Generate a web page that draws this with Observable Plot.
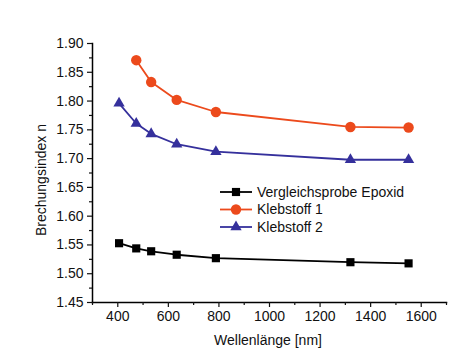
<!DOCTYPE html>
<html><head><meta charset="utf-8">
<script src="https://cdn.jsdelivr.net/npm/d3@7"></script>
<script src="https://cdn.jsdelivr.net/npm/@observablehq/plot@0.6"></script>
<style>body{margin:0;background:#fff}#c{position:relative;width:465px;height:361px}</style>
</head><body><div id="c"></div>
<script>
const wavelengths = [405, 473, 532, 633, 788, 1320, 1550];
const epoxid = [1.553, 1.544, 1.539, 1.533, 1.527, 1.520, 1.518];
const klebstoff1W = [473, 532, 633, 788, 1320, 1550];
const klebstoff1 = [1.871, 1.833, 1.802, 1.781, 1.755, 1.754];
const klebstoff2 = [1.796, 1.761, 1.743, 1.725, 1.712, 1.698, 1.698];
const seriesNames = ["Vergleichsprobe Epoxid", "Klebstoff 1", "Klebstoff 2"];
const colors = ["#000000", "#ec4a1c", "#35309c"];
const symbols = ["square", "circle", "triangle"];
const xMajor = [400, 600, 800, 1000, 1200, 1400, 1600];
const xMinor = [300, 500, 700, 900, 1100, 1300, 1500, 1700];
const yMajor = [1.45, 1.50, 1.55, 1.60, 1.65, 1.70, 1.75, 1.80, 1.85, 1.90];
const yMinor = [1.475, 1.525, 1.575, 1.625, 1.675, 1.725, 1.775, 1.825, 1.875];

const s0 = wavelengths.map((w, i) => ({w, n: epoxid[i]}));
const s1 = klebstoff1W.map((w, i) => ({w, n: klebstoff1[i]}));
const s2 = wavelengths.map((w, i) => ({w, n: klebstoff2[i]}));
const sets = [s0, s1, s2];
const sizes = [4.6, 5.2, 4.2];

const marks = [
  Plot.frame({anchor: "left", stroke: "#000", strokeWidth: 1.5}),
  Plot.frame({anchor: "bottom", stroke: "#000", strokeWidth: 1.5}),
  Plot.axisY(yMajor, {tickSize: 5, tickPadding: 4, tickFormat: d3.format(".2f"), fontSize: 14, label: null, strokeWidth: 1.2}),
  Plot.axisY(yMinor, {tickSize: 3, text: null, label: null, strokeWidth: 1.2}),
  Plot.axisX(xMajor, {tickSize: 5, tickPadding: 4, tickFormat: d3.format("d"), fontSize: 14, label: null, strokeWidth: 1.2}),
  Plot.axisX(xMinor, {tickSize: 3, text: null, label: null, strokeWidth: 1.2}),
];
sets.forEach((d, i) => {
  marks.push(Plot.line(d, {x: "w", y: "n", stroke: colors[i], strokeWidth: 1.8}));
  marks.push(Plot.dot(d, {x: "w", y: "n", symbol: () => symbols[i], fill: colors[i], stroke: "none", r: sizes[i]}));
});

const chart = Plot.plot({
  width: 465, height: 361,
  marginLeft: 92, marginRight: 19, marginTop: 43, marginBottom: 59,
  style: {fontFamily: "'Liberation Sans', Arial, sans-serif", fontSize: "14px", color: "#111"},
  x: {domain: [300, 1700]},
  y: {domain: [1.45, 1.90]},
  marks
});
document.getElementById("c").appendChild(chart);

const svg = d3.select(chart);
svg.append("text").attr("x", 268).attr("y", 345).attr("text-anchor", "middle")
  .attr("font-size", 14).attr("fill", "#111").text("Wellenlänge [nm]");
svg.append("text").attr("transform", "translate(46,180) rotate(-90)").attr("text-anchor", "middle")
  .attr("font-size", 14).attr("fill", "#111").text("Brechungsindex n");

const sym = {square: d3.symbolSquare, circle: d3.symbolCircle, triangle: d3.symbolTriangle};
seriesNames.forEach((name, i) => {
  const y = 192 + i * 17.5;
  const g = svg.append("g");
  g.append("line").attr("x1", 220).attr("x2", 252).attr("y1", y).attr("y2", y)
    .attr("stroke", colors[i]).attr("stroke-width", 1.8);
  g.append("path").attr("transform", `translate(236,${y})`)
    .attr("d", d3.symbol(sym[symbols[i]], Math.PI * sizes[i] * sizes[i])())
    .attr("fill", colors[i]);
  g.append("text").attr("x", 257).attr("y", y).attr("dy", "0.35em").attr("text-anchor", "start")
    .attr("font-size", 14).attr("fill", "#111").text(name);
});
</script></body></html>
